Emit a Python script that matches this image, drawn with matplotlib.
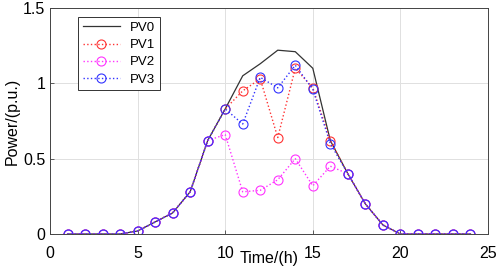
import matplotlib.pyplot as plt

plt.rcParams['font.family'] = ['Liberation Sans', 'DejaVu Sans']

# hourly PV output (p.u.)
hours = list(range(1, 25))
pv0 = [0, 0, 0, 0, 0.02, 0.08, 0.14, 0.28, 0.62, 0.83, 1.05, 1.13, 1.22, 1.21, 1.10,
       0.62, 0.40, 0.20, 0.06, 0, 0, 0, 0, 0]
pv1 = [0, 0, 0, 0, 0.02, 0.08, 0.14, 0.28, 0.62, 0.83, 0.95, 1.03, 0.64, 1.10, 0.97,
       0.62, 0.40, 0.20, 0.06, 0, 0, 0, 0, 0]
pv2 = [0, 0, 0, 0, 0.02, 0.08, 0.14, 0.28, 0.62, 0.66, 0.28, 0.29, 0.36, 0.50, 0.32,
       0.45, 0.40, 0.20, 0.06, 0, 0, 0, 0, 0]
pv3 = [0, 0, 0, 0, 0.02, 0.08, 0.14, 0.28, 0.62, 0.83, 0.73, 1.04, 0.97, 1.12, 0.96,
       0.60, 0.40, 0.20, 0.06, 0, 0, 0, 0, 0]

fig = plt.figure(figsize=(4.98, 2.68), dpi=100)
ax = fig.add_axes([50 / 498, 34 / 268, 438 / 498, 226 / 268])

ax.plot(hours, pv0, '-', color='#333333', lw=0.9, label='PV0')
ax.plot(hours, pv1, ':', color='#ff3333', lw=1.0, marker='o', ms=6.5,
        mfc='none', mew=0.8, label='PV1')
ax.plot(hours, pv2, ':', color='#ff33ff', lw=1.0, marker='o', ms=6.5,
        mfc='none', mew=0.8, label='PV2')
ax.plot(hours, pv3, ':', color='#3333ff', lw=1.0, marker='o', ms=6.5,
        mfc='none', mew=0.8, label='PV3')

ax.set_xlim(0, 25)
ax.set_ylim(0, 1.5)
ax.set_xticks([0, 5, 10, 15, 20, 25])
ax.set_yticks([0, 0.5, 1, 1.5])
ax.set_yticklabels(['0', '0.5', '1', '1.5'])
ax.tick_params(direction='in', labelsize=11.5, length=3, width=0.6, color='#444444')
ax.tick_params(axis='x', pad=8.5)
ax.grid(True, color='#e0e0e0', lw=0.7)
for s in ax.spines.values():
    s.set_color('#444444')
    s.set_linewidth(0.7)

ax.set_xlabel('Time/(h)', fontsize=11.5, labelpad=-7)
ax.set_ylabel('Power/(p.u.)', fontsize=11.5, labelpad=2)

leg = ax.legend(loc='upper left', bbox_to_anchor=(0.064, 0.96), borderaxespad=0,
                fontsize=9.5, fancybox=False, edgecolor='#333333', framealpha=1,
                handlelength=2.8, handletextpad=0.8, borderpad=0.35,
                labelspacing=0.38)
leg.get_frame().set_linewidth(0.7)

fig.savefig('out.png', dpi=100)
